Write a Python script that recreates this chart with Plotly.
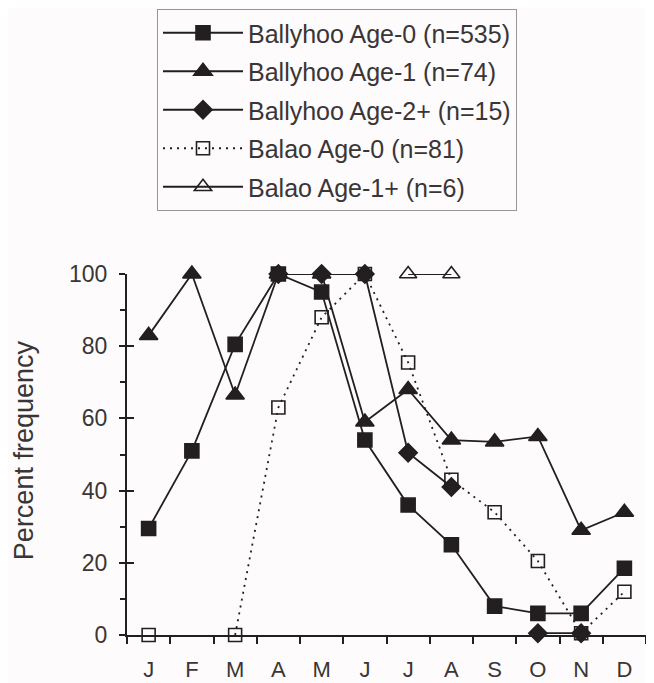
import plotly.graph_objects as go

months = ["J", "F", "M", "A", "M", "J", "J", "A", "S", "O", "N", "D"]
month_idx = list(range(12))

bally_age0 = [29.5, 51, 80.5, 100, 95, 54, 36, 25, 8, 6, 6, 18.5]
bally_age1 = [83, 100, 66.5, 100, 100, 59, 68, 54, 53.5, 55, 29, 34]
bally_age2 = [None, None, None, 100, 100, 100, 50.5, 41, None, 0.5, 0.5, None]
balao_age0 = [0, None, 0, 63, 88, 100, 75.5, 43, 34, 20.5, 0.5, 12]
balao_age1 = [None, None, None, None, None, None, 100, 100, None, None, None, None]

names = [
    "Ballyhoo Age-0 (n=535)",
    "Ballyhoo Age-1 (n=74)",
    "Ballyhoo Age-2+ (n=15)",
    "Balao Age-0 (n=81)",
    "Balao Age-1+ (n=6)",
]
y_title = "Percent frequency"

INK = "#231f20"
TXT = "#3a3536"
FONT = "Liberation Sans, Arial, sans-serif"

fig = go.Figure()

def add(y, name, symbol, size, fill, dash, order, lw=1.6):
    fig.add_trace(go.Scatter(
        x=month_idx, y=y, name=name, mode="lines+markers",
        line=dict(color=INK, width=1.8, dash=dash),
        marker=dict(symbol=symbol, size=size, color=fill,
                    line=dict(color=INK, width=lw)),
        cliponaxis=False, legendgroup=name, legendrank=order,
        connectgaps=False,
    ))

add(bally_age2, names[2], "diamond", 14, INK, "solid", 3)
add(balao_age0, names[3], "square-open", 13, INK, "2px,5px", 4)
add(bally_age1, names[1], "triangle-up", 16, INK, "solid", 2)
add(bally_age0, names[0], "square", 14, INK, "solid", 1)
add(balao_age1, names[4], "triangle-up-open", 15, INK, "solid", 5)

# overlay axis to make major y ticks cross the axis line
fig.add_trace(go.Scatter(x=[None], y=[None], yaxis="y2", showlegend=False,
                         hoverinfo="skip"))

# page body has an 8px margin, so the figure is drawn 8px in and 8px down
fig.update_layout(
    width=646, height=675,
    margin=dict(l=119, r=8, t=266, b=48, autoexpand=False),
    paper_bgcolor="#fdfbfb", plot_bgcolor="#fdfbfb",
    font=dict(family=FONT, size=22, color=TXT),
    showlegend=True,
    legend=dict(
        xref="container", yref="container",
        x=149 / 646, xanchor="left", y=1 - 1 / 675, yanchor="top",
        bgcolor="rgba(0,0,0,0)", bordercolor="#9a9596", borderwidth=1,
        font=dict(family=FONT, size=25, color=TXT),
        tracegroupgap=3, itemwidth=80, traceorder="grouped",
    ),
    xaxis=dict(
        range=[-0.5, 11.5], tickmode="array", tickvals=month_idx, ticktext=months,
        ticks="", showgrid=False, zeroline=False, automargin=False,
        showline=True, linecolor=INK, linewidth=2,
        tickfont=dict(size=22, color=TXT), ticklabelstandoff=14,
        minor=dict(tickmode="linear", tick0=-0.5, dtick=1, ticks="outside",
                   ticklen=7, tickwidth=2, tickcolor=INK, showgrid=False),
    ),
    yaxis=dict(
        range=[0, 100], tickmode="linear", tick0=0, dtick=20,
        ticks="outside", ticklen=6, tickwidth=2, tickcolor=INK,
        showgrid=False, zeroline=False, automargin=False,
        showline=True, linecolor=INK, linewidth=2,
        tickfont=dict(size=23, color=TXT), ticklabelstandoff=7,
        minor=dict(dtick=10, ticks="outside", ticklen=5, tickwidth=2,
                   tickcolor=INK, showgrid=False),
    ),
    yaxis2=dict(
        range=[0, 100], overlaying="y", anchor="x", side="left",
        tickmode="linear", tick0=0, dtick=20, ticks="inside", ticklen=7,
        tickwidth=2, tickcolor=INK, showticklabels=False, showgrid=False,
        zeroline=False, showline=False, automargin=False,
    ),
    annotations=[dict(
        text=y_title, xref="paper", yref="paper", x=-0.1985, y=0.512,
        xanchor="center", yanchor="middle", textangle=-90, showarrow=False,
        font=dict(family=FONT, size=27, color=TXT),
    )],
)

fig.write_html("out.html")
